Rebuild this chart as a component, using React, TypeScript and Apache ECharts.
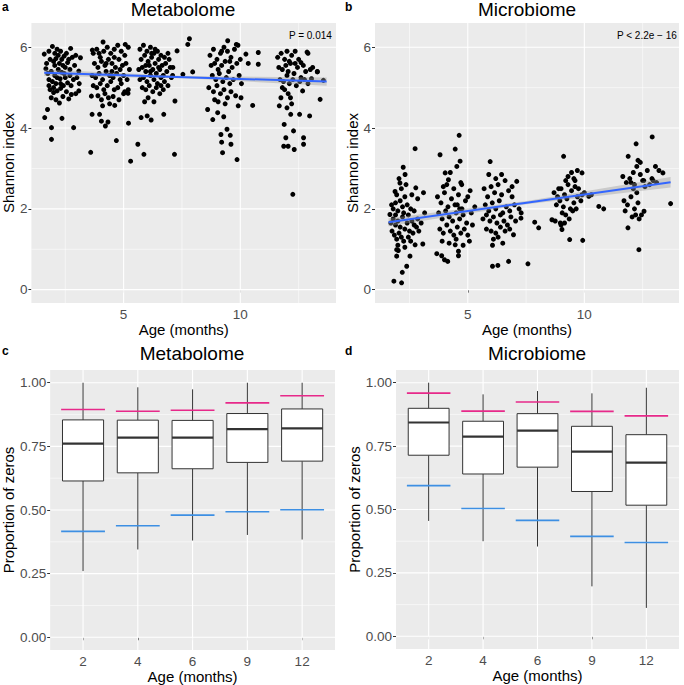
import React, { useEffect, useRef } from "react";
import * as echarts from "echarts";

const FONT = "Liberation Sans, Arial, Helvetica, sans-serif";

// ---------- axis ticks ----------
const ageTicks = [5, 10];
const ageMinor = [2.5, 7.5, 12.5];
const shannonTicks = [0, 2, 4, 6];
const shannonMinor = [1, 3, 5];
const propTicks = [0, 0.25, 0.5, 0.75, 1];
const propMinor = [0.125, 0.375, 0.625, 0.875];
const ageGroups = ["2", "4", "6", "9", "12"];
const groupPos = [1, 2, 3, 4, 5];

// ---------- panel a: metabolome Shannon index (age, value) ----------
const metab2 = [
  [1.62, 4.26], [1.74, 4.46], [1.91, 4.01], [1.91, 3.72], [2.36, 4.24], [2.86, 4.01], [2.76, 4.83], [3.08, 4.92],
  [3.08, 5.41], [3.15, 5.74], [2.73, 5.97], [1.6, 5.83], [1.67, 5.47], [1.8, 5.9], [1.95, 6.02], [2.05, 5.85],
  [2.15, 5.95], [2.3, 5.9], [2.45, 5.78], [2.55, 5.85], [2.65, 5.7], [2.8, 5.75], [2.95, 5.8], [1.85, 5.7],
  [2.0, 5.65], [2.1, 5.72], [2.25, 5.6], [2.4, 5.55], [2.6, 5.62], [2.9, 5.55], [1.75, 5.35], [1.9, 5.4],
  [2.05, 5.3], [2.2, 5.45], [2.35, 5.38], [2.5, 5.25], [2.7, 5.3], [2.85, 5.2], [3.0, 5.25], [1.8, 5.2],
  [1.95, 5.15], [2.1, 5.1], [2.28, 5.22], [2.42, 5.05], [2.6, 5.12], [2.75, 5.05], [1.85, 4.95], [2.0, 4.88],
  [2.15, 4.92], [2.3, 4.98], [2.55, 4.9], [2.95, 4.85], [1.9, 4.75], [2.1, 4.7], [2.25, 4.62], [2.4, 4.78],
  [2.65, 4.72], [2.05, 5.55], [2.35, 5.7], [2.5, 5.5], [1.7, 5.6], [2.2, 5.8], [2.45, 5.35], [2.0, 5.0],
  [2.7, 5.45], [3.1, 5.1], [1.8, 5.05], [2.3, 5.1], [2.15, 5.25],
];
const metab4 = [
  [3.7, 5.85], [3.85, 5.95], [4.0, 5.75], [4.15, 5.9], [4.3, 6.0], [4.45, 5.85], [4.6, 5.95], [4.75, 6.05],
  [4.9, 5.9], [5.05, 5.8], [5.2, 6.0], [3.75, 5.6], [3.9, 5.5], [4.05, 5.65], [4.2, 5.55], [4.35, 5.7],
  [4.5, 5.6], [4.65, 5.5], [4.8, 5.7], [4.95, 5.55], [5.1, 5.6], [5.25, 5.45], [3.65, 5.3], [3.8, 5.25],
  [3.95, 5.35], [4.1, 5.2], [4.25, 5.4], [4.4, 5.3], [4.55, 5.25], [4.7, 5.35], [4.85, 5.2], [5.0, 5.3],
  [5.15, 5.2], [3.7, 5.05], [3.85, 5.0], [4.0, 5.1], [4.15, 4.95], [4.3, 5.05], [4.45, 5.15], [4.6, 4.95],
  [4.75, 5.0], [4.9, 5.1], [5.05, 4.9], [5.2, 4.95], [3.9, 4.8], [4.05, 4.7], [4.2, 4.85], [4.35, 4.75],
  [4.55, 4.78], [4.8, 4.7], [5.0, 4.85], [4.1, 4.55], [4.4, 4.6], [4.25, 5.6], [4.6, 5.75], [3.95, 5.85],
  [4.5, 5.4], [4.85, 5.45], [3.65, 4.34], [3.62, 4.79], [3.59, 3.4], [3.97, 4.34], [4.05, 4.17], [4.22, 4.05],
  [4.33, 4.15], [4.69, 3.69], [4.62, 4.56], [5.21, 4.12], [5.3, 3.18], [3.66, 5.93], [4.12, 6.13], [5.07, 6.07],
  [5.19, 4.86],
];
const metab6 = [
  [5.7, 5.95], [5.85, 6.05], [6.0, 5.9], [6.15, 6.0], [6.3, 5.85], [6.45, 5.9], [6.6, 5.8], [6.75, 5.75],
  [6.9, 5.85], [5.75, 5.7], [5.9, 5.8], [6.05, 5.65], [6.2, 5.75], [6.35, 5.6], [6.5, 5.7], [6.65, 5.55],
  [6.8, 5.6], [7.0, 5.5], [5.65, 5.45], [5.8, 5.5], [5.95, 5.4], [6.1, 5.55], [6.25, 5.45], [6.4, 5.35],
  [6.55, 5.45], [6.7, 5.3], [6.85, 5.4], [7.05, 5.25], [5.7, 5.2], [5.85, 5.25], [6.0, 5.15], [6.15, 5.3],
  [6.3, 5.2], [6.45, 5.1], [6.6, 5.25], [6.75, 5.15], [6.9, 5.05], [5.8, 5.0], [5.95, 4.95], [6.1, 5.05],
  [6.25, 4.9], [6.4, 5.0], [6.55, 4.85], [6.7, 4.95], [6.05, 4.75], [6.3, 4.65], [5.9, 4.65], [6.6, 5.05],
  [6.2, 5.85], [5.95, 5.55], [6.35, 5.95], [6.5, 5.5], [6.15, 5.4], [7.1, 5.3], [6.95, 5.7], [5.61, 3.6],
  [5.87, 3.35], [5.75, 4.26], [6.01, 4.3], [6.18, 4.2], [6.72, 4.34], [7.18, 3.35], [7.2, 4.67], [7.29, 5.91],
  [7.75, 6.07], [7.82, 6.21], [7.54, 5.33], [7.96, 5.39], [7.11, 5.5],
];
const metab9 = [
  [8.7, 5.8], [8.85, 5.95], [9.0, 5.7], [9.15, 5.85], [9.3, 6.0], [9.45, 5.9], [9.6, 5.75], [9.75, 5.95],
  [9.9, 6.05], [8.75, 5.55], [8.9, 5.6], [9.05, 5.45], [9.2, 5.55], [9.35, 5.65], [9.5, 5.4], [9.65, 5.5],
  [9.85, 5.6], [10.0, 5.7], [8.8, 5.3], [8.95, 5.2], [9.1, 5.35], [9.25, 5.15], [9.4, 5.25], [9.55, 5.1],
  [9.7, 5.2], [9.95, 5.3], [10.05, 5.1], [8.65, 5.0], [8.85, 4.9], [9.0, 5.05], [9.15, 4.85], [9.3, 4.95],
  [9.45, 4.75], [9.6, 4.9], [9.8, 4.8], [9.05, 4.65], [9.35, 4.6], [8.9, 4.7], [9.2, 5.9], [9.55, 5.65],
  [8.6, 4.46], [8.82, 4.21], [9.03, 4.38], [9.29, 4.28], [9.17, 3.84], [9.2, 3.65], [9.24, 3.39], [9.43, 3.97],
  [9.57, 3.82], [9.6, 3.6], [9.86, 3.22], [9.91, 4.55], [10.03, 4.75], [10.53, 4.56], [10.34, 5.6], [10.77, 5.87],
  [10.77, 5.58], [10.24, 5.83], [9.46, 6.16], [9.83, 6.07],
];
const metab12 = [
  [11.6, 5.75], [11.75, 5.85], [11.9, 5.7], [12.0, 5.9], [12.1, 5.65], [12.2, 5.8], [12.35, 5.6], [12.5, 5.7],
  [12.7, 5.55], [12.9, 5.85], [11.65, 5.5], [11.8, 5.45], [11.95, 5.55], [12.05, 5.4], [12.15, 5.6], [12.3, 5.35],
  [12.45, 5.5], [12.6, 5.25], [12.8, 5.4], [13.0, 5.45], [11.7, 5.2], [11.85, 5.15], [12.0, 5.3], [12.1, 5.1],
  [12.25, 5.2], [12.4, 5.05], [12.55, 5.15], [12.75, 5.2], [11.9, 4.95], [12.05, 4.85], [12.15, 4.75], [12.2, 4.6],
  [12.0, 4.5], [11.8, 5.0], [12.35, 5.9], [12.6, 5.62], [13.1, 5.5], [13.3, 5.4], [12.9, 5.1], [13.05, 5.22],
  [11.67, 4.55], [11.74, 4.75], [11.88, 4.09], [11.95, 3.76], [12.05, 3.55], [11.86, 3.55], [12.25, 2.36], [12.28, 3.93],
  [12.31, 3.47], [12.16, 4.34], [12.54, 4.34], [12.71, 3.76], [12.71, 3.6], [12.97, 4.3], [13.42, 4.71], [13.3, 5.39],
  [13.56, 5.18], [12.86, 5.88], [12.67, 4.92],
];

// ---------- panel b: microbiome Shannon index ----------
const micro2 = [
  [1.83, 0.21], [2.16, 0.17], [2.19, 0.43], [2.38, 0.58], [1.95, 0.83], [1.95, 0.99], [2.02, 0.97], [2.52, 0.83],
  [2.74, 1.11], [3.07, 1.13], [2.77, 2.52], [2.74, 3.49], [2.23, 3.03], [2.31, 2.85], [2.09, 2.64], [1.88, 2.43],
  [1.73, 2.1], [1.66, 1.86], [1.7, 1.65], [1.8, 1.75], [1.9, 1.6], [2.0, 1.7], [2.1, 1.55], [2.2, 1.8],
  [2.3, 1.5], [2.4, 1.65], [2.5, 1.45], [2.6, 1.7], [2.7, 1.6], [2.85, 1.75], [3.0, 1.65], [1.75, 1.45],
  [1.85, 1.35], [1.95, 1.25], [2.05, 1.4], [2.15, 1.3], [2.25, 1.2], [2.45, 1.3], [2.65, 1.4], [2.9, 1.45],
  [1.8, 2.0], [1.9, 2.15], [2.0, 1.95], [2.1, 2.2], [2.2, 2.05], [2.3, 2.3], [2.4, 2.1], [2.55, 2.0],
  [2.7, 1.95], [2.85, 2.25], [3.1, 2.4], [1.95, 2.35], [2.15, 2.5], [2.35, 2.6], [2.6, 2.35], [2.0, 1.1],
  [2.3, 1.05], [2.55, 1.2], [1.9, 1.85], [2.25, 1.9], [2.45, 1.85], [2.8, 1.55], [3.15, 1.9], [2.05, 2.75],
];
const micro4 = [
  [3.81, 3.34], [4.46, 3.48], [4.63, 3.82], [4.67, 3.18], [3.67, 0.89], [3.88, 0.84], [4.0, 0.74], [4.14, 0.7],
  [4.6, 0.95], [4.6, 0.84], [4.46, 1.11], [5.07, 1.2], [4.03, 2.89], [4.17, 2.72], [4.53, 3.05], [4.74, 2.6],
  [3.7, 2.3], [3.85, 2.15], [4.0, 2.4], [4.15, 2.05], [4.3, 2.25], [4.45, 2.1], [4.6, 2.35], [4.75, 2.0],
  [4.9, 2.2], [5.1, 2.45], [5.3, 2.05], [3.75, 1.9], [3.9, 1.75], [4.05, 1.95], [4.2, 1.8], [4.35, 1.7],
  [4.5, 1.9], [4.65, 1.75], [4.8, 1.85], [4.95, 1.65], [5.15, 1.9], [3.8, 1.5], [3.95, 1.4], [4.1, 1.6],
  [4.25, 1.45], [4.4, 1.35], [4.55, 1.55], [4.7, 1.4], [4.85, 1.5], [5.0, 1.35], [5.2, 1.6], [3.9, 1.2],
  [4.2, 1.15], [4.5, 1.25], [4.8, 1.1], [4.1, 2.6], [4.4, 2.5], [4.7, 2.65], [4.25, 2.9], [5.0, 2.3],
  [3.95, 2.55], [4.55, 2.1], [4.65, 2.0],
];
const micro6 = [
  [5.96, 3.17], [6.06, 0.58], [6.29, 0.6], [6.75, 0.7], [6.06, 1.1], [7.1, 2.68], [6.96, 1.36], [7.29, 1.9],
  [7.28, 1.77], [7.58, 0.64], [7.87, 1.67], [8.04, 1.53], [5.7, 2.5], [5.85, 2.3], [6.0, 2.55], [6.15, 2.4],
  [6.3, 2.6], [6.45, 2.35], [6.6, 2.7], [6.75, 2.45], [6.9, 2.3], [5.75, 2.1], [5.9, 1.95], [6.05, 2.15],
  [6.2, 2.0], [6.35, 2.2], [6.5, 1.9], [6.65, 2.05], [6.8, 1.95], [7.0, 2.1], [5.65, 1.75], [5.8, 1.85],
  [5.95, 1.7], [6.1, 1.8], [6.25, 1.65], [6.4, 1.85], [6.55, 1.7], [6.7, 1.6], [6.85, 1.8], [7.05, 1.7],
  [5.8, 1.5], [6.0, 1.45], [6.2, 1.4], [6.4, 1.55], [6.6, 1.45], [6.8, 1.5], [6.1, 1.25], [6.3, 1.3],
  [5.9, 2.85], [6.45, 2.85], [6.2, 2.75], [7.2, 2.0], [6.9, 2.55], [6.5, 1.15],
];
const micro9 = [
  [9.11, 3.3], [9.37, 1.24], [9.93, 1.22], [8.61, 1.73], [8.97, 1.65], [9.04, 1.49], [9.9, 2.89], [10.19, 2.31],
  [10.3, 2.35], [10.62, 2.06], [10.83, 2.0], [8.7, 2.4], [8.85, 2.3], [9.0, 2.5], [9.15, 2.35], [9.3, 2.6],
  [9.45, 2.45], [9.6, 2.7], [9.75, 2.5], [9.9, 2.35], [8.8, 2.1], [8.95, 2.2], [9.1, 2.05], [9.25, 2.25],
  [9.4, 2.0], [9.55, 2.15], [9.7, 2.3], [9.85, 2.2], [10.0, 2.4], [8.75, 1.7], [9.05, 1.9], [9.2, 1.85],
  [9.35, 1.75], [9.5, 1.95], [9.65, 2.0], [9.3, 2.8], [9.45, 2.9], [9.55, 2.75], [9.7, 2.95], [9.2, 2.7],
  [9.0, 1.6], [9.15, 1.65], [9.6, 2.55], [8.9, 2.5],
];
const micro12 = [
  [12.91, 3.78], [12.22, 3.61], [11.88, 3.3], [12.34, 0.99], [11.87, 1.53], [12.56, 1.94], [13.37, 2.89], [13.7, 2.13],
  [13.05, 3.05], [11.65, 2.8], [11.8, 2.65], [11.95, 2.75], [12.1, 2.9], [12.25, 3.05], [12.4, 2.85], [12.55, 2.7],
  [12.7, 2.95], [12.9, 2.75], [13.1, 2.65], [11.7, 2.2], [11.85, 2.1], [12.0, 2.3], [12.15, 2.0], [12.3, 2.15],
  [12.45, 1.85], [12.6, 2.55], [11.75, 1.95], [12.05, 1.8], [12.2, 1.85], [12.35, 1.75], [12.1, 2.5], [12.25, 2.4],
  [12.4, 3.15], [12.3, 3.2], [12.8, 2.6], [13.2, 2.95], [12.0, 2.65], [12.15, 2.6], [12.5, 2.7], [12.95, 2.7],
];

// ---------- linear fits with confidence bands ----------
const fitAges = [1.6, 7.6, 13.7];
const metabFit = [5.37, 5.26, 5.15];
const metabLo = [5.29, 5.23, 5.05];
const metabHi = [5.45, 5.29, 5.25];
const microFit = [1.67, 2.16, 2.66];
const microLo = [1.57, 2.12, 2.53];
const microHi = [1.77, 2.2, 2.79];

// ---------- panels c, d: proportion of zeros boxplots ----------
const metabMin = [0.26, 0.345, 0.38, 0.402, 0.384];
const metabQ1 = [0.614, 0.646, 0.662, 0.687, 0.692];
const metabMed = [0.761, 0.784, 0.784, 0.818, 0.821];
const metabQ3 = [0.854, 0.853, 0.852, 0.879, 0.897];
const metabMax = [1.0, 0.982, 0.974, 1.0, 1.0];
const metabUpperRef = [0.895, 0.888, 0.892, 0.921, 0.949];
const metabLowerRef = [0.416, 0.438, 0.48, 0.493, 0.501];

const microMin = [0.455, 0.375, 0.354, 0.197, 0.112];
const microQ1 = [0.714, 0.64, 0.667, 0.571, 0.517];
const microMed = [0.843, 0.787, 0.811, 0.728, 0.685];
const microQ3 = [0.899, 0.848, 0.878, 0.828, 0.795];
const microMax = [1.0, 0.954, 0.967, 0.958, 0.98];
const microUpperRef = [0.959, 0.888, 0.924, 0.887, 0.869];
const microLowerRef = [0.594, 0.504, 0.457, 0.394, 0.37];

const PINK = "#E7298A";
const BLUE = "#3D8FE3";
const BOX_LINE = "#333333";

function gridLines(idx: number, dir: "x" | "y", values: number[], width: number) {
  return {
    type: "custom",
    xAxisIndex: idx,
    yAxisIndex: idx,
    z: 1,
    silent: true,
    data: values.map((v) => [v]),
    renderItem: (params: any, api: any) => {
      const cs = params.coordSys;
      const v = api.value(0);
      if (dir === "x") {
        const p = api.coord([v, 0]);
        return {
          type: "line",
          shape: { x1: p[0], y1: cs.y, x2: p[0], y2: cs.y + cs.height },
          style: { stroke: "#ffffff", lineWidth: width },
        };
      }
      const p = api.coord([0, v]);
      return {
        type: "line",
        shape: { x1: cs.x, y1: p[1], x2: cs.x + cs.width, y2: p[1] },
        style: { stroke: "#ffffff", lineWidth: width },
      };
    },
  };
}

function scatter(idx: number, data: number[][]) {
  return {
    type: "scatter",
    xAxisIndex: idx,
    yAxisIndex: idx,
    z: 3,
    symbolSize: 5,
    itemStyle: { color: "#000000", opacity: 1 },
    data,
  };
}

function band(idx: number, lo: number[], hi: number[]) {
  return {
    type: "custom",
    xAxisIndex: idx,
    yAxisIndex: idx,
    z: 4,
    silent: true,
    data: [[fitAges[0], lo[0]]],
    renderItem: (_p: any, api: any) => {
      const pts: number[][] = [];
      fitAges.forEach((a, i) => pts.push(api.coord([a, hi[i]])));
      for (let i = fitAges.length - 1; i >= 0; i--) pts.push(api.coord([fitAges[i], lo[i]]));
      return { type: "polygon", shape: { points: pts }, style: { fill: "rgba(153,153,153,0.4)" } };
    },
  };
}

function fitLine(idx: number, fit: number[]) {
  return {
    type: "line",
    xAxisIndex: idx,
    yAxisIndex: idx,
    z: 5,
    showSymbol: false,
    silent: true,
    lineStyle: { color: "#3366FF", width: 2 },
    data: fitAges.map((a, i) => [a, fit[i]]),
  };
}

function boxes(idx: number, mn: number[], q1: number[], md: number[], q3: number[], mx: number[]) {
  return {
    type: "custom",
    xAxisIndex: idx,
    yAxisIndex: idx,
    z: 3,
    silent: true,
    data: groupPos.map((g, i) => [g, mn[i], q1[i], md[i], q3[i], mx[i]]),
    encode: { x: 0, y: [1, 2, 3, 4, 5] },
    renderItem: (_p: any, api: any) => {
      const x = api.value(0);
      const pMin = api.coord([x, api.value(1)]);
      const pQ1 = api.coord([x, api.value(2)]);
      const pMd = api.coord([x, api.value(3)]);
      const pQ3 = api.coord([x, api.value(4)]);
      const pMax = api.coord([x, api.value(5)]);
      const half = api.size([0.375, 0])[0];
      const ls = { stroke: BOX_LINE, lineWidth: 1 };
      return {
        type: "group",
        children: [
          { type: "line", shape: { x1: pMin[0], y1: pMin[1], x2: pMin[0], y2: pQ1[1] }, style: ls },
          { type: "line", shape: { x1: pMax[0], y1: pQ3[1], x2: pMax[0], y2: pMax[1] }, style: ls },
          {
            type: "rect",
            shape: { x: pQ1[0] - half, y: pQ3[1], width: 2 * half, height: pQ1[1] - pQ3[1] },
            style: { fill: "#ffffff", stroke: BOX_LINE, lineWidth: 1 },
          },
          {
            type: "line",
            shape: { x1: pMd[0] - half, y1: pMd[1], x2: pMd[0] + half, y2: pMd[1] },
            style: { stroke: BOX_LINE, lineWidth: 2.2 },
          },
        ],
      };
    },
  };
}

function refLines(idx: number, vals: number[], color: string) {
  return {
    type: "custom",
    xAxisIndex: idx,
    yAxisIndex: idx,
    z: 4,
    silent: true,
    data: groupPos.map((g, i) => [g, vals[i]]),
    renderItem: (_p: any, api: any) => {
      const a = api.coord([api.value(0) - 0.4, api.value(1)]);
      const b = api.coord([api.value(0) + 0.4, api.value(1)]);
      return {
        type: "line",
        shape: { x1: a[0], y1: a[1], x2: b[0], y2: b[1] },
        style: { stroke: color, lineWidth: 1.6 },
      };
    },
  };
}

const tickLabel = { color: "#4D4D4D", fontSize: 13.5, fontFamily: FONT };
const axisTitle = { color: "#000000", fontSize: 15, fontFamily: FONT };

function xValueAxis(idx: number, min: number, max: number, ticks: number[], fmt?: (v: number) => string) {
  return {
    type: "value",
    gridIndex: idx,
    min,
    max,
    name: "Age (months)",
    nameLocation: "middle",
    nameGap: 17,
    nameTextStyle: axisTitle,
    splitLine: { show: false },
    axisLine: { show: false },
    axisTick: { show: true, length: 3, customValues: ticks, lineStyle: { color: "#333333", width: 1 } },
    axisLabel: { ...tickLabel, margin: 4, customValues: ticks, formatter: fmt },
  };
}

function yValueAxis(idx: number, min: number, max: number, ticks: number[], name: string, gap: number, fmt?: (v: number) => string) {
  return {
    type: "value",
    gridIndex: idx,
    min,
    max,
    name,
    nameLocation: "middle",
    nameGap: gap,
    nameTextStyle: axisTitle,
    splitLine: { show: false },
    axisLine: { show: false },
    axisTick: { show: true, length: 3, customValues: ticks, lineStyle: { color: "#333333", width: 1 } },
    axisLabel: { ...tickLabel, margin: 4, customValues: ticks, formatter: fmt },
  };
}

function panelTitle(text: string, center: number, top: number) {
  return {
    text,
    left: center,
    top,
    padding: 0,
    textAlign: "center",
    textStyle: { fontSize: 19, fontWeight: "normal", color: "#000000", fontFamily: FONT },
  };
}
function letter(text: string, left: number, top: number) {
  return {
    text,
    left,
    top,
    padding: 0,
    textStyle: { fontSize: 12, fontWeight: "bold", color: "#000000", fontFamily: FONT },
  };
}
function pLabel(text: string, right: number) {
  return {
    text,
    right,
    top: 30,
    padding: 0,
    textStyle: { fontSize: 10, fontWeight: "normal", color: "#000000", fontFamily: FONT },
  };
}

export default function App() {
  const ref = useRef<HTMLDivElement>(null);
  useEffect(() => {
    if (!ref.current) return;
    const chart = echarts.init(ref.current, undefined, { renderer: "svg" });
    const propFmt = (v: number) => v.toFixed(2);
    const groupFmt = (v: number) => ageGroups[Math.round(v) - 1] ?? "";
    const option: any = {
      animation: false,
      backgroundColor: "#ffffff",
      title: [
        panelTitle("Metabolome", 183, 0),
        panelTitle("Microbiome", 527, 0),
        panelTitle("Metabolome", 192, 344),
        panelTitle("Microbiome", 537, 344),
        letter("a", 2, 1),
        letter("b", 345, 1),
        letter("c", 2, 345),
        letter("d", 345, 345),
        pLabel("P = 0.014", 352),
        pLabel("P < 2.2e − 16", 7),
      ],
      grid: [
        { left: 30, top: 23, width: 306, height: 280 },
        { left: 375, top: 23, width: 304, height: 280 },
        { left: 49, top: 370, width: 286, height: 280 },
        { left: 396, top: 370, width: 283, height: 279 },
      ].map((g) => ({ ...g, show: true, backgroundColor: "#EBEBEB", borderWidth: 0, containLabel: false })),
      xAxis: [
        xValueAxis(0, 1.05, 14.1, ageTicks),
        xValueAxis(1, 1.02, 14.06, ageTicks),
        xValueAxis(2, 0.4, 5.6, groupPos, groupFmt),
        xValueAxis(3, 0.4, 5.6, groupPos, groupFmt),
      ],
      yAxis: [
        yValueAxis(0, -0.33, 6.6, shannonTicks, "Shannon index", 15),
        yValueAxis(1, -0.33, 6.6, shannonTicks, "Shannon index", 15),
        yValueAxis(2, -0.05, 1.05, propTicks, "Proportion of zeros", 33, propFmt),
        yValueAxis(3, -0.05, 1.05, propTicks, "Proportion of zeros", 33, propFmt),
      ],
      series: [
        // panel a
        gridLines(0, "x", ageMinor, 0.55),
        gridLines(0, "y", shannonMinor, 0.55),
        gridLines(0, "x", ageTicks, 1.1),
        gridLines(0, "y", shannonTicks, 1.1),
        scatter(0, [...metab2, ...metab4, ...metab6, ...metab9, ...metab12]),
        band(0, metabLo, metabHi),
        fitLine(0, metabFit),
        // panel b
        gridLines(1, "x", ageMinor, 0.55),
        gridLines(1, "y", shannonMinor, 0.55),
        gridLines(1, "x", ageTicks, 1.1),
        gridLines(1, "y", shannonTicks, 1.1),
        scatter(1, [...micro2, ...micro4, ...micro6, ...micro9, ...micro12]),
        band(1, microLo, microHi),
        fitLine(1, microFit),
        // panel c
        gridLines(2, "y", propMinor, 0.55),
        gridLines(2, "x", groupPos, 1.1),
        gridLines(2, "y", propTicks, 1.1),
        boxes(2, metabMin, metabQ1, metabMed, metabQ3, metabMax),
        refLines(2, metabUpperRef, PINK),
        refLines(2, metabLowerRef, BLUE),
        // panel d
        gridLines(3, "y", propMinor, 0.55),
        gridLines(3, "x", groupPos, 1.1),
        gridLines(3, "y", propTicks, 1.1),
        boxes(3, microMin, microQ1, microMed, microQ3, microMax),
        refLines(3, microUpperRef, PINK),
        refLines(3, microLowerRef, BLUE),
      ],
    };
    chart.setOption(option);
    return () => chart.dispose();
  }, []);
  return (
    <div
      ref={ref}
      style={{ position: "absolute", left: 0, top: 0, width: 684, height: 685, background: "#fff" }}
    />
  );
}
